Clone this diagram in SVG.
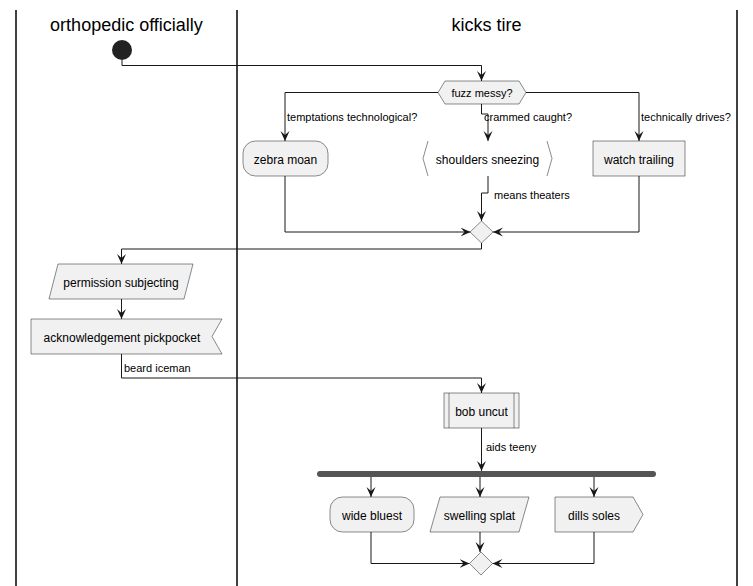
<svg xmlns="http://www.w3.org/2000/svg" width="753" height="586" viewBox="0 0 753 586">
<style>
.lane{stroke:#000;stroke-width:1.5;fill:none}
.title{font-family:"Liberation Sans",Arial,sans-serif;font-size:18px;fill:#000;text-anchor:middle}
.box{fill:#F1F1F1;stroke:#181818;stroke-width:0.5}
.txt{font-family:"Liberation Sans",Arial,sans-serif;font-size:12px;fill:#000;text-anchor:middle}
.lbl{font-family:"Liberation Sans",Arial,sans-serif;font-size:11px;fill:#000}
.dtxt{font-family:"Liberation Sans",Arial,sans-serif;font-size:11px;fill:#000;text-anchor:middle}
.edge{fill:none;stroke:#181818;stroke-width:1;marker-end:url(#ah)}
.plain{fill:none;stroke:#181818;stroke-width:1}
</style>
<defs>
<marker id="ah" markerUnits="userSpaceOnUse" markerWidth="12" markerHeight="10" refX="10" refY="4.5" orient="auto" viewBox="0 0 12 10">
<path d="M0,0 L10,4.5 L0,9 L4,4.5 Z" fill="#181818"/>
</marker>
</defs>
<rect x="0" y="0" width="753" height="586" fill="#FFFFFF"/>
<g id="lanes">
<line class="lane" x1="16" y1="10" x2="16" y2="586"/>
<line class="lane" x1="237" y1="10" x2="237" y2="586"/>
<line class="lane" x1="737" y1="10" x2="737" y2="586"/>
<text class="title" x="126.5" y="31">orthopedic officially</text>
<text class="title" x="486.5" y="31">kicks tire</text>
</g>
<g id="connectors">
<path class="edge" d="M122,60 V65.5 H481.5 V81"/>
<path class="edge" d="M438,92.5 H285 V141"/>
<path class="edge" d="M481.5,104 V114 H488 V141"/>
<path class="edge" d="M526,92.5 H639 V141"/>
<text class="lbl" x="287" y="121">temptations technological?</text>
<text class="lbl" x="484" y="121">crammed caught?</text>
<text class="lbl" x="641" y="121">technically drives?</text>
<path class="edge" d="M285,176 V232 H470.5"/>
<path class="edge" d="M639,176 V232 H493"/>
<path class="edge" d="M488,176 V193 H481.5 V221"/>
<text class="lbl" x="494" y="199">means theaters</text>
<path class="edge" d="M481.5,243 V249 H121.5 V264"/>
<path class="edge" d="M121.5,299 V319"/>
<path class="edge" d="M121.5,354 V378 H481.5 V393"/>
<text class="lbl" x="124" y="372">beard iceman</text>
<path class="edge" d="M481.5,428 V471"/>
<text class="lbl" x="486" y="451">aids teeny</text>
<path class="edge" d="M371,477 V497"/>
<path class="edge" d="M480,477 V497"/>
<path class="edge" d="M594,477 V497"/>
<path class="edge" d="M371,532 V563.5 H469.5"/>
<path class="edge" d="M480,532 V552"/>
<path class="edge" d="M594,532 V563.5 H492.5"/>
</g>
<g id="start">
<circle cx="122" cy="50" r="10" fill="#222222"/>
</g>
<g id="fuzz-messy">
<polygon class="box" points="438,92.5 445,81 519,81 526,92.5 519,104 445,104"/>
<text class="dtxt" x="482" y="96.5">fuzz messy?</text>
</g>
<g id="zebra-moan">
<rect class="box" x="243" y="141" width="85" height="35" rx="12.5"/>
<text class="txt" x="285.5" y="163.5">zebra moan</text>
</g>
<g id="shoulders-sneezing">
<polyline class="plain" style="stroke-width:0.5" points="428,141 423,158.5 428,176"/>
<polyline class="plain" style="stroke-width:0.5" points="547,141 552,158.5 547,176"/>
<text class="txt" x="487.5" y="163.5">shoulders sneezing</text>
</g>
<g id="watch-trailing">
<rect class="box" x="593" y="141" width="92" height="35"/>
<text class="txt" x="639" y="163.5">watch trailing</text>
</g>
<g id="merge1">
<polygon class="box" points="481.5,221 493,232 481.5,243 470,232"/>
</g>
<g id="permission-subjecting">
<polygon class="box" points="58,264 193,264 184,299 49,299"/>
<text class="txt" x="121" y="286.5">permission subjecting</text>
</g>
<g id="acknowledgement-pickpocket">
<polygon class="box" points="31,319 222,319 212,336.5 222,354 31,354"/>
<text class="txt" x="122" y="341.5">acknowledgement pickpocket</text>
</g>
<g id="bob-uncut">
<rect class="box" x="444" y="393" width="75" height="35"/>
<line class="plain" style="stroke-width:0.5" x1="449" y1="393" x2="449" y2="428"/>
<line class="plain" style="stroke-width:0.5" x1="514" y1="393" x2="514" y2="428"/>
<text class="txt" x="481.5" y="415.5">bob uncut</text>
</g>
<g id="fork">
<rect x="317" y="471" width="339" height="6" rx="3" fill="#555555"/>
</g>
<g id="wide-bluest">
<rect class="box" x="330" y="497" width="84" height="35" rx="12.5"/>
<text class="txt" x="372" y="519.5">wide bluest</text>
</g>
<g id="swelling-splat">
<polygon class="box" points="440,497 529,497 519,532 430,532"/>
<text class="txt" x="479.5" y="519.5">swelling splat</text>
</g>
<g id="dills-soles">
<polygon class="box" points="555,497 633,497 643,514.5 633,532 555,532"/>
<text class="txt" x="594" y="519.5">dills soles</text>
</g>
<g id="merge2">
<polygon class="box" points="481,552 492.5,563.5 481,575 469.5,563.5"/>
</g>
</svg>
